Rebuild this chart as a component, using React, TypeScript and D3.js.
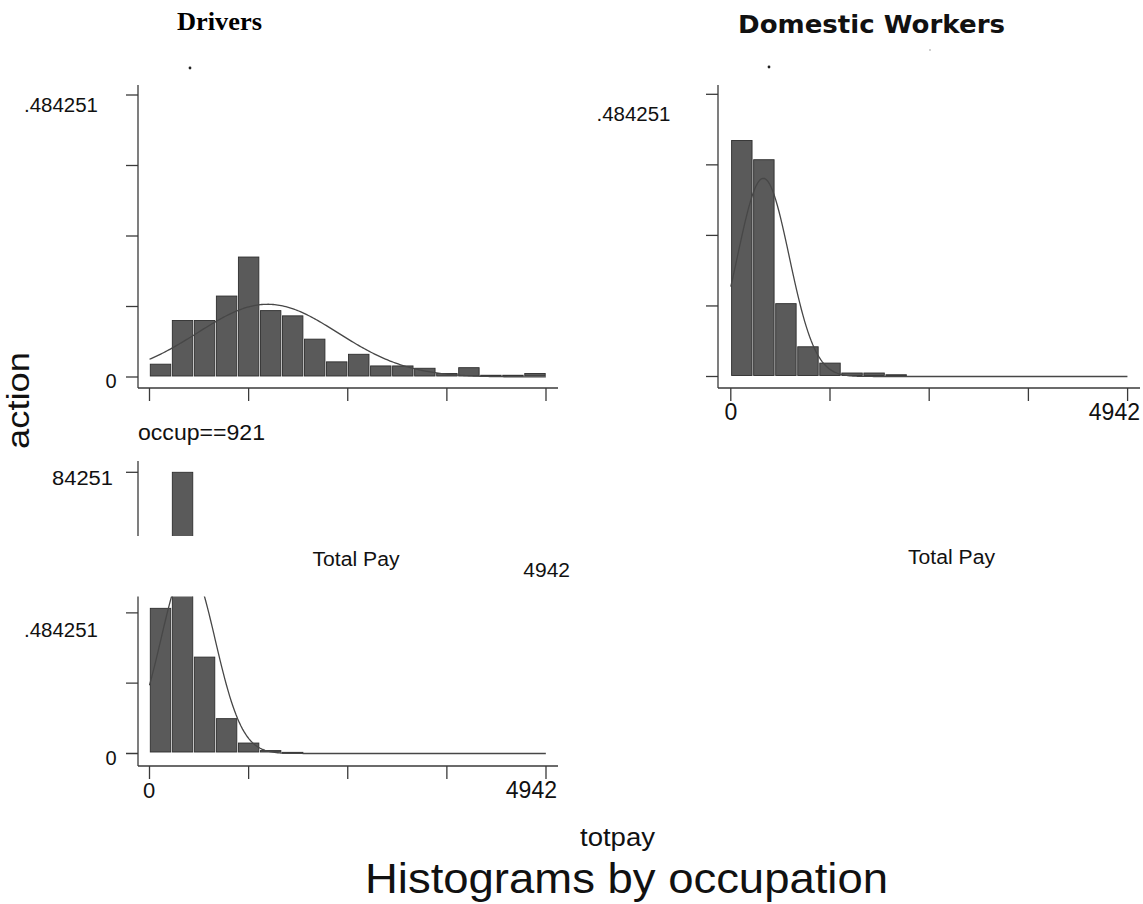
import React from "react";
import * as d3 from "d3";

// ---- data ----
const TOTPAY_MAX = 4942;
const Y_MAX = 0.484251;
const BIN_COUNT = 18;

const driversFractions = [0.022, 0.097, 0.097, 0.139, 0.206, 0.114, 0.105, 0.065, 0.026, 0.039, 0.019, 0.019, 0.015, 0.006, 0.016, 0.003, 0.003, 0.006];
const domesticFractions = [0.405, 0.372, 0.125, 0.051, 0.023, 0.006, 0.006, 0.003];
const occ921Fractions = [0.25, 0.484251, 0.166, 0.06, 0.018, 0.005, 0.002];

// normal-overlay parameters (mean, sd of totpay)
const driversNormal = { mean: 1473, sd: 877 };
const domesticNormal = { mean: 405, sd: 322 };
const occ921Normal = { mean: 480, sd: 336 };

const yTickValues = [0, Y_MAX / 4, Y_MAX / 2, (3 * Y_MAX) / 4, Y_MAX];
const xTickValues = [0, TOTPAY_MAX / 4, TOTPAY_MAX / 2, (3 * TOTPAY_MAX) / 4, TOTPAY_MAX];

const SANS = "'Liberation Sans', Arial, sans-serif";
const AXIS = "#3a3a3a";
const BAR_FILL = "#5a5a5a";
const BAR_STROKE = "#2e2e2e";
const CURVE = "#474747";

const binWidth = TOTPAY_MAX / BIN_COUNT;

function normalPath(x: d3.ScaleLinear<number, number>, y: d3.ScaleLinear<number, number>, p: { mean: number; sd: number }) {
  const pts = d3.range(0, TOTPAY_MAX + 1, 20).map((v) => {
    const z = (v - p.mean) / p.sd;
    const dens = (binWidth / (p.sd * Math.sqrt(2 * Math.PI))) * Math.exp(-0.5 * z * z);
    return [v, dens] as [number, number];
  });
  const line = d3.line<[number, number]>().x((d) => x(d[0])).y((d) => y(d[1])).curve(d3.curveLinear);
  return line(pts) || "";
}

function Bars({ fr, x, y, base }: { fr: number[]; x: any; y: any; base: number }) {
  return (
    <g>
      {fr.map((f, i) => {
        const x0 = x(i * binWidth) + 0.8;
        const x1 = x((i + 1) * binWidth) - 0.8;
        const top = y(f);
        return (
          <rect key={i} x={x0} y={top} width={x1 - x0} height={Math.max(base - top, 1)} fill={BAR_FILL} stroke={BAR_STROKE} strokeWidth={0.9} />
        );
      })}
    </g>
  );
}

function Axes({ x, y, axisX, yTop, axisY, xEnd, showY = true }: any) {
  return (
    <g stroke={AXIS} strokeWidth={1.3} fill="none">
      {showY && <line x1={axisX} x2={axisX} y1={yTop} y2={axisY} />}
      {showY && yTickValues.map((t, i) => <line key={"y" + i} x1={axisX - 12} x2={axisX} y1={y(t)} y2={y(t)} />)}
      <line x1={axisX} x2={xEnd} y1={axisY} y2={axisY} />
      {xTickValues.map((t, i) => <line key={"x" + i} x1={x(t)} x2={x(t)} y1={axisY} y2={axisY + 13} />)}
    </g>
  );
}

export default function App() {
  // Drivers panel
  const xD = d3.scaleLinear().domain([0, TOTPAY_MAX]).range([149.5, 546]);
  const yD = d3.scaleLinear().domain([0, Y_MAX]).range([377, 95]);
  // Domestic workers panel
  const xW = d3.scaleLinear().domain([0, TOTPAY_MAX]).range([730.8, 1127.6]);
  const yW = d3.scaleLinear().domain([0, Y_MAX]).range([376.5, 94.3]);
  // occup==921 panel
  const xO = d3.scaleLinear().domain([0, TOTPAY_MAX]).range([149.5, 546]);
  const yO = d3.scaleLinear().domain([0, Y_MAX]).range([753.5, 472.3]);

  return (
    <svg width={1143} height={904} style={{ position: "absolute", left: 0, top: 0, background: "#fff" }} fontFamily={SANS}>
      <defs>
        <clipPath id="clipTop">
          <rect x={100} y={461} width={120} height={75} />
        </clipPath>
        <clipPath id="clipBottom">
          <rect x={100} y={596.5} width={480} height={200} />
        </clipPath>
      </defs>
      <rect x={0} y={0} width={1143} height={904} fill="#fff" />

      {/* ---------- Drivers ---------- */}
      <text x={219.5} y={30} textAnchor="middle" fontFamily="'Liberation Serif', 'Times New Roman', serif" fontWeight="bold" fontSize={25} textLength={85} lengthAdjust="spacingAndGlyphs">Drivers</text>
      <circle cx={190} cy={68} r={1.4} fill="#222" />
      <Bars fr={driversFractions} x={xD} y={yD} base={376} />
      <path d={normalPath(xD, yD, driversNormal)} fill="none" stroke={CURVE} strokeWidth={1.3} />
      <Axes x={xD} y={yD} axisX={138} yTop={85} axisY={388} xEnd={558} />
      <text x={98} y={111.5} textAnchor="end" fontSize={20} textLength={74} lengthAdjust="spacingAndGlyphs" fill="#111">.484251</text>
      <text x={116.5} y={388} textAnchor="end" fontSize={20} fill="#111">0</text>

      {/* ---------- Domestic Workers ---------- */}
      <text x={871.5} y={33} textAnchor="middle" fontFamily="'DejaVu Sans', Verdana, sans-serif" fontWeight="bold" fontSize={25} textLength={267} lengthAdjust="spacingAndGlyphs" fill="#111">Domestic Workers</text>
      <circle cx={769} cy={67} r={1.4} fill="#222" />
      <circle cx={930} cy={50} r={0.9} fill="#bbb" />
      <Bars fr={domesticFractions} x={xW} y={yW} base={375.5} />
      <path d={normalPath(xW, yW, domesticNormal)} fill="none" stroke={CURVE} strokeWidth={1.3} />
      <Axes x={xW} y={yW} axisX={718} yTop={85} axisY={388} xEnd={1140} />
      <text x={670.5} y={120.5} textAnchor="end" fontSize={20} textLength={74} lengthAdjust="spacingAndGlyphs" fill="#111">.484251</text>
      <text x={731} y={420} textAnchor="middle" fontSize={23} fill="#111">0</text>
      <text x={1140} y={420} textAnchor="end" fontSize={23} fill="#111">4942</text>
      <text x={951.5} y={564} textAnchor="middle" fontSize={20} textLength={87} lengthAdjust="spacingAndGlyphs" fill="#111">Total Pay</text>

      {/* ---------- occup==921 ---------- */}
      <text x={138} y={440} fontSize={22} textLength={127} lengthAdjust="spacingAndGlyphs" fill="#111">occup==921</text>
      <g clipPath="url(#clipTop)">
        <Bars fr={occ921Fractions} x={xO} y={yO} base={752} />
        <line x1={138} x2={138} y1={461} y2={540} stroke={AXIS} strokeWidth={1.3} />
        <line x1={126} x2={138} y1={yO(Y_MAX)} y2={yO(Y_MAX)} stroke={AXIS} strokeWidth={1.3} />
      </g>
      <text x={113} y={484.5} textAnchor="end" fontSize={20} textLength={61} lengthAdjust="spacingAndGlyphs" fill="#111">84251</text>
      <text x={356} y={566} textAnchor="middle" fontSize={20} textLength={87} lengthAdjust="spacingAndGlyphs" fill="#111">Total Pay</text>
      <text x={570} y={577} textAnchor="end" fontSize={21} fill="#111">4942</text>

      <g clipPath="url(#clipBottom)">
        <Bars fr={occ921Fractions} x={xO} y={yO} base={752} />
        <path d={normalPath(xO, yO, occ921Normal)} fill="none" stroke={CURVE} strokeWidth={1.3} />
        <g stroke={AXIS} strokeWidth={1.3}>
          <line x1={138} x2={138} y1={450} y2={766} />
          {yTickValues.map((t, i) => (
            <line key={i} x1={126} x2={138} y1={yO(t)} y2={yO(t)} />
          ))}
        </g>
      </g>
      <Axes x={xO} y={yO} axisX={138} yTop={766} axisY={766} xEnd={558} showY={false} />
      <text x={98} y={637} textAnchor="end" fontSize={20} textLength={74} lengthAdjust="spacingAndGlyphs" fill="#111">.484251</text>
      <text x={116.5} y={765} textAnchor="end" fontSize={20} fill="#111">0</text>
      <text x={149} y={798} textAnchor="middle" fontSize={22} fill="#111">0</text>
      <text x={557} y={798} textAnchor="end" fontSize={23} fill="#111">4942</text>

      {/* ---------- global labels ---------- */}
      <text transform="translate(29,449) rotate(-90)" fontSize={31} textLength={97} lengthAdjust="spacingAndGlyphs" fill="#111">action</text>
      <text x={617.5} y={846} textAnchor="middle" fontSize={25} textLength={75} lengthAdjust="spacingAndGlyphs" fill="#111">totpay</text>
      <text x={626.5} y={893} textAnchor="middle" fontSize={43} textLength={523} lengthAdjust="spacingAndGlyphs" fill="#111">Histograms by occupation</text>
    </svg>
  );
}
